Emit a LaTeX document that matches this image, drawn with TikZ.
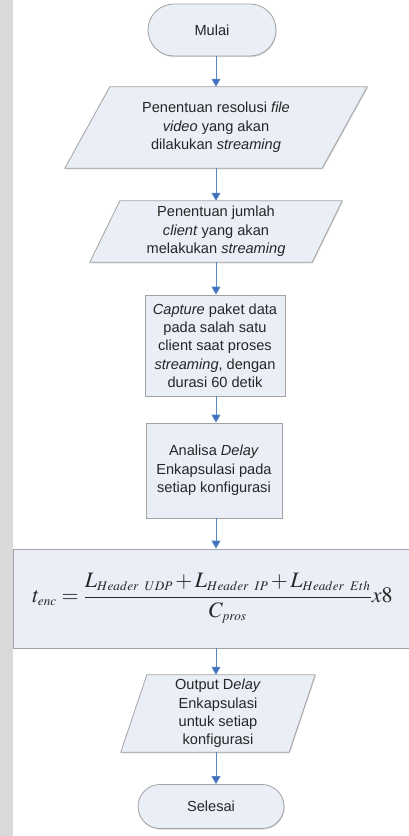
\documentclass[tikz,border=0pt]{standalone}
\usepackage{mathptmx}
\usepackage{fontspec}
\setmainfont{Liberation Sans}
\usetikzlibrary{arrows.meta,backgrounds,shadows,shapes.misc}
\definecolor{boxfill}{HTML}{E9EEF7}
\definecolor{boxline}{HTML}{A3A3A3}
\definecolor{arrowc}{HTML}{5A86C0}
\definecolor{tipc}{HTML}{3D6FBF}
\definecolor{stripc}{HTML}{D9D9D9}
\definecolor{inkc}{HTML}{262626}
\tikzset{
  shade/.style={drop shadow={shadow xshift=0.6pt,shadow yshift=-1.2pt,fill=gray!60,opacity=0.5}},
  txt/.style={font=\fontsize{14.6}{18.3}\selectfont, align=center, inner sep=0pt, text=inkc},
  term/.style={txt, rounded rectangle, draw=boxline, fill=boxfill, line width=0.8pt, shade},
  procbox/.style={txt, rectangle, draw=boxline, fill=boxfill, line width=0.8pt, shade},
  iobox/.style={txt, rectangle},
  iofill/.style={draw=boxline, fill=boxfill, line width=0.8pt, shade},
  flow/.style={draw=arrowc, line width=0.8pt, -{Triangle[width=9pt,length=8pt,fill=tipc]}},
}
\newcommand\drawpara[2]{%
  \draw[iofill] ([xshift=#2/2]#1.north west) -- ([xshift=#2/2]#1.north east)
    -- ([xshift=-#2/2]#1.south east) -- ([xshift=-#2/2]#1.south west) -- cycle;}
\begin{document}
\begin{tikzpicture}[x=1pt,y=-1pt]
\useasboundingbox (0,0) rectangle (409,836);

\node[term, minimum width=128pt, minimum height=52pt] (start) at (212,30) {Mulai};
\node[iobox, minimum width=257pt, minimum height=81pt] (p1) at (216,127.5)
  {Penentuan resolusi \textit{file}\\ \textit{video} yang akan\\ dilakukan \textit{streaming}};
\node[iobox, minimum width=222pt, minimum height=61pt] (p2) at (216,231.5)
  {Penentuan jumlah\\ \textit{client} yang akan\\ melakukan \textit{streaming}};
\node[procbox, minimum width=140pt, minimum height=101pt] (b3) at (215,345.5)
  {\textit{Capture} paket data\\ pada salah satu\\ client saat proses\\ \textit{streaming}, dengan\\ durasi 60 detik};
\node[procbox, minimum width=136pt, minimum height=95pt] (b4) at (214,470.5)
  {Analisa \textit{Delay}\\ Enkapsulasi pada\\ setiap konfigurasi};
\node[procbox, minimum width=399pt, minimum height=99pt] (f) at (212.5,598.5)
  {\raisebox{-3pt}{\fontsize{22}{26}\selectfont\medmuskip=2mu plus 1mu minus 1mu
   $t_{\scriptscriptstyle enc}=\displaystyle\frac{L_{\scriptscriptstyle Header\ UDP}+L_{\scriptscriptstyle Header\ IP}+L_{\scriptscriptstyle Header\ Eth}}{C_{\scriptscriptstyle pros}}x8$}};
\node[iobox, minimum width=168pt, minimum height=77pt] (p6) at (218,713.5)
  {Output D\textit{elay}\\ Enkapsulasi\\ untuk setiap\\ konfigurasi};
\node[term, minimum width=146pt, minimum height=44pt] (end) at (211,806.5) {Selesai};

\begin{scope}[on background layer]
\fill[white] (0,0) rectangle (409,836);
\fill[stripc] (0,0) rectangle (13,836);
\drawpara{p1}{45}
\drawpara{p2}{30}
\drawpara{p6}{26}
\end{scope}

\draw[flow] (start.south -| p1.north) -- (p1.north);
\draw[flow] (p1.south) -- (p2.north);
\draw[flow] (p2.south) -- (p2.south |- b3.north);
\draw[flow] (p2.south |- b3.south) -- (p2.south |- b4.north);
\draw[flow] (p2.south |- b4.south) -- (p2.south |- f.north);
\draw[flow] (p2.south |- f.south) -- (p2.south |- p6.north);
\draw[flow] (p2.south |- p6.south) -- (p2.south |- end.north);
\end{tikzpicture}
\end{document}
